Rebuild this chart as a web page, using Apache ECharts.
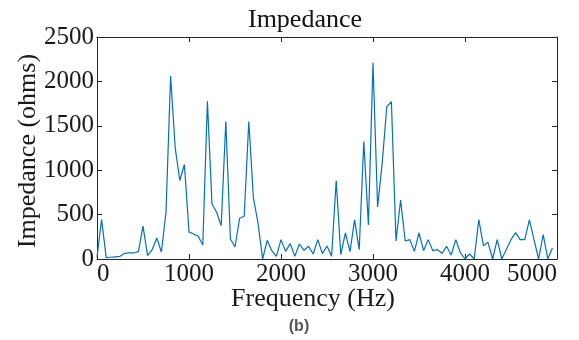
<!DOCTYPE html>
<html>
<head>
<meta charset="utf-8">
<script src="https://cdn.jsdelivr.net/npm/echarts@6/dist/echarts.min.js"></script>
<style>html,body{margin:0;padding:0;background:#fff}#c{width:579px;height:340px}</style>
</head>
<body>
<div id="c"></div>
<script>
// Frequencies (Hz), 50 Hz step
var frequencies = [];
for (var k = 0; k < 100; k++) frequencies.push(k * 50);
// Impedance values (ohms)
var impedance = [
  20, 445, 15, 20, 25, 30, 64, 70, 68, 83,
  370, 38, 105, 237, 79, 526, 2060, 1252, 884, 1064,
  305, 282, 256, 158, 1775, 620, 526, 376, 1549, 226,
  135, 459, 481, 1549, 688, 406, 0, 210, 94, 30,
  218, 86, 173, 30, 169, 98, 143, 56, 218, 60,
  147, 30, 884, 49, 293, 83, 440, 105, 1324, 384,
  2211, 587, 1080, 1715, 1771, 203, 665, 203, 218, 86,
  293, 94, 218, 94, 105, 64, 143, 45, 218, 68,
  0, 56, 0, 444, 150, 188, 0, 218, 0, 109,
  218, 297, 218, 218, 440, 218, 0, 274, 0, 124
];
var xTicks = [0, 1000, 2000, 3000, 4000, 5000];
var yTicks = [0, 500, 1000, 1500, 2000, 2500];

var serif = "'Liberation Serif','Times New Roman',serif";
var axisColor = '#262626';
var seriesData = frequencies.map(function (f, i) { return [f, impedance[i]]; });
var plain = function (v) { return String(v); };

var chart = echarts.init(document.getElementById('c'), null, {renderer: 'canvas'});
chart.setOption({
  animation: false,
  backgroundColor: '#ffffff',
  grid: {left: 97, right: 22, top: 37, bottom: 81, show: false},
  xAxis: [{
    type: 'value', min: xTicks[0], max: xTicks[xTicks.length - 1], interval: 1000,
    axisLine: {show: true, onZero: false, lineStyle: {color: axisColor, width: 1}},
    axisTick: {show: true, inside: true, length: 5, lineStyle: {color: axisColor}},
    axisLabel: {show: true, margin: 3, fontFamily: serif, fontSize: 25, color: '#1a1a1a',
      formatter: plain, alignMinLabel: 'left', alignMaxLabel: 'right'},
    splitLine: {show: false}
  }, {
    type: 'value', position: 'top', min: xTicks[0], max: xTicks[xTicks.length - 1], interval: 1000,
    axisLine: {show: true, onZero: false, lineStyle: {color: axisColor, width: 1}},
    axisTick: {show: true, inside: true, length: 5, lineStyle: {color: axisColor}},
    axisLabel: {show: false}, splitLine: {show: false}
  }],
  yAxis: [{
    type: 'value', min: yTicks[0], max: yTicks[yTicks.length - 1], interval: 500,
    axisLine: {show: true, onZero: false, lineStyle: {color: axisColor, width: 1}},
    axisTick: {show: true, inside: true, length: 5, lineStyle: {color: axisColor}},
    axisLabel: {show: true, margin: 3, fontFamily: serif, fontSize: 25, color: '#1a1a1a', formatter: plain},
    splitLine: {show: false}
  }, {
    type: 'value', position: 'right', min: yTicks[0], max: yTicks[yTicks.length - 1], interval: 500,
    axisLine: {show: true, onZero: false, lineStyle: {color: axisColor, width: 1}},
    axisTick: {show: true, inside: true, length: 5, lineStyle: {color: axisColor}},
    axisLabel: {show: false}, splitLine: {show: false}
  }],
  series: [{
    type: 'line', xAxisIndex: 0, yAxisIndex: 0, data: seriesData,
    showSymbol: false, symbol: 'none',
    lineStyle: {color: '#0072BD', width: 1.2},
    clip: true
  }],
  graphic: [
    {type: 'text', x: 305, y: 20, style: {text: 'Impedance', font: "26px 'Liberation Serif', serif", fill: '#111', align: 'center', verticalAlign: 'middle'}},
    {type: 'text', x: 313, y: 299, style: {text: 'Frequency (Hz)', font: "26px 'Liberation Serif', serif", fill: '#1a1a1a', align: 'center', verticalAlign: 'middle'}},
    {type: 'text', x: 28, y: 151, rotation: Math.PI / 2, style: {text: 'Impedance (ohms)', font: "26px 'Liberation Serif', serif", fill: '#1a1a1a', align: 'center', verticalAlign: 'middle'}},
    {type: 'text', x: 299, y: 327, style: {text: '(b)', font: "bold 16px 'Liberation Sans', Arial, sans-serif", fill: '#555', align: 'center', verticalAlign: 'middle'}}
  ]
});
</script>
</body>
</html>
